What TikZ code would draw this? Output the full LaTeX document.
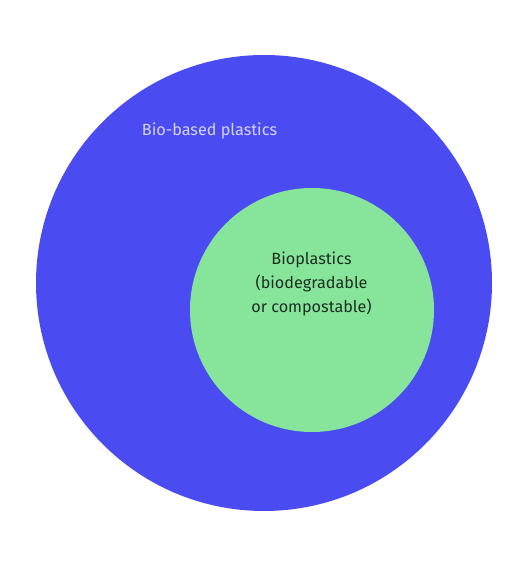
\documentclass[tikz,border=0pt]{standalone}
\usepackage{fontspec}
\setmainfont{Fira Sans}
\definecolor{bigblue}{HTML}{4B4BF2}
\definecolor{smallgreen}{HTML}{86E59B}
\definecolor{lighttext}{HTML}{D4D4FF}
\definecolor{darktext}{HTML}{1C2E22}
\begin{document}
\begin{tikzpicture}[x=1pt,y=1pt,
  lbl/.style={font=\fontsize{16.2}{24}\selectfont, align=center, inner sep=0pt}]
\useasboundingbox (0,0) rectangle (529,565);
\fill[bigblue] (264,282) circle (228);
\fill[smallgreen] (312,255) circle (122);
\node[lbl, text=lighttext] (outer) at (209.5,434) {Bio-based plastics};
\node[lbl, text=darktext] (inner) at (311.5,281) {Bioplastics\\(biodegradable\\or compostable)};
\end{tikzpicture}
\end{document}
